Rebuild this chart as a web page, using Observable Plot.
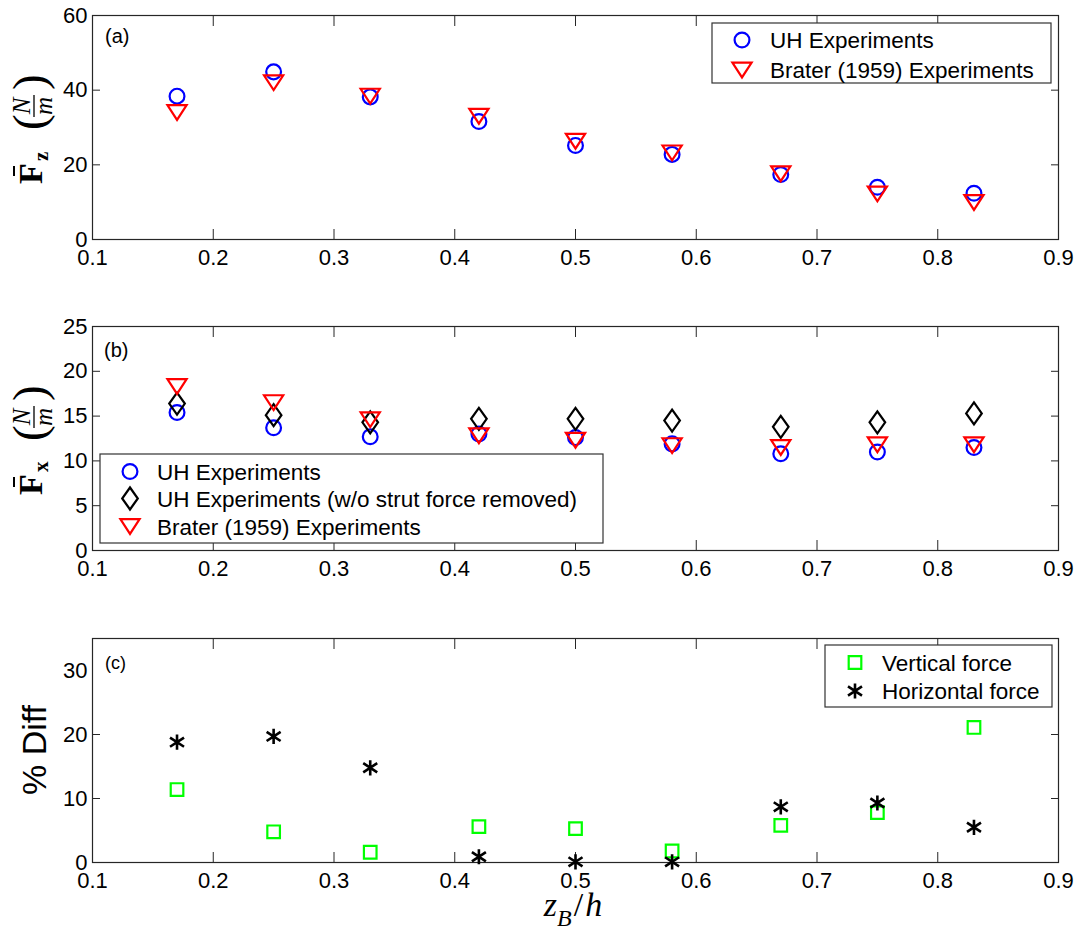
<!DOCTYPE html>
<html>
<head>
<meta charset="utf-8">
<script src="https://cdn.jsdelivr.net/npm/d3@7"></script>
<script src="https://cdn.jsdelivr.net/npm/@observablehq/plot@0.6"></script>
<style>
  body { margin: 0; background: #fff; }
  #fig { position: relative; width: 1079px; height: 933px; background: #fff; }
  #fig svg { position: absolute; left: 0; }
</style>
</head>
<body>
<div id="fig"></div>
<script>
// Relative submergence z_B/h of the plate
const zB = [0.17, 0.25, 0.33, 0.42, 0.50, 0.58, 0.67, 0.75, 0.83];

// (a) mean vertical force (N/m)
const fzUH     = [38.4, 44.9, 38.2, 31.6, 25.2, 22.8, 17.4, 14.0, 12.4];
const fzBrater = [34.0, 42.0, 38.4, 33.0, 26.3, 23.2, 17.6, 12.2, 9.9];

// (b) mean horizontal force (N/m)
const fxUH      = [15.4, 13.7, 12.7, 13.0, 12.6, 11.9, 10.8, 11.0, 11.5];
const fxUHStrut = [16.4, 15.1, 14.3, 14.7, 14.7, 14.5, 13.8, 14.3, 15.3];
const fxBrater  = [18.3, 16.5, 14.6, 12.8, 12.3, 11.7, 11.5, 11.8, 11.8];

// (c) percent difference between the two experiment sets
const diffVertical   = [11.4, 4.8, 1.6, 5.6, 5.3, 1.8, 5.8, 7.8, 21.1];
const diffHorizontal = [18.8, 19.7, 14.8, 0.9, 0.1, 0.1, 8.7, 9.3, 5.5];

// Axis ticks
const xTicks = [0.1, 0.2, 0.3, 0.4, 0.5, 0.6, 0.7, 0.8, 0.9];
const yTicksA = [0, 20, 40, 60];
const yTicksB = [0, 5, 10, 15, 20, 25];
const yTicksC = [0, 10, 20, 30];

const SANS = "'Liberation Sans', Arial, Helvetica, sans-serif";
const SERIF = "'Liberation Serif', 'DejaVu Serif', 'Times New Roman', serif";
const R = 8;

// Marker shapes, scaled from the symbol area so they follow r
const scaleOf = (size) => Math.sqrt(size / Math.PI) / R;
const circleSym = { draw(c, size) { const k = scaleOf(size), r = 7.4 * k; c.moveTo(r, 0); c.arc(0, 0, r, 0, 2 * Math.PI); } };
const triDown = { draw(c, size) { const k = scaleOf(size), w = 9.6 * k, h = 7.4 * k; c.moveTo(-w, -h); c.lineTo(w, -h); c.lineTo(0, h); c.closePath(); } };
const diamond = { draw(c, size) { const k = scaleOf(size), w = 7.8 * k, h = 11 * k; c.moveTo(0, -h); c.lineTo(w, 0); c.lineTo(0, h); c.lineTo(-w, 0); c.closePath(); } };
const square = { draw(c, size) { const k = scaleOf(size), s = 6.3 * k; c.rect(-s, -s, 2 * s, 2 * s); } };
const asterisk = { draw(c, size) {
  const k = scaleOf(size), v = 7.6 * k, dx = 7.0 * k, dy = 4.6 * k;
  c.moveTo(0, -v); c.lineTo(0, v);
  c.moveTo(-dx, -dy); c.lineTo(dx, dy);
  c.moveTo(-dx, dy); c.lineTo(dx, -dy);
} };

const W = 1079, H = 311;
const xInner = xTicks.slice(1, -1);

function panel({top, yDomain, yTicks, marks}) {
  return Plot.plot({
    width: W, height: H,
    marginLeft: 92, marginRight: 21, marginTop: top, marginBottom: H - top - 224,
    style: { fontFamily: SANS, fontSize: "22px", color: "#000", background: "transparent", overflow: "visible" },
    x: { domain: [0.1, 0.9] },
    y: { domain: yDomain },
    marks: [
      Plot.frame({ stroke: "#262626", strokeWidth: 1.2 }),
      Plot.axisX({ ticks: xInner, anchor: "bottom", tickSize: -10, text: null, label: null, stroke: "#262626" }),
      Plot.axisX({ ticks: xInner, anchor: "top", tickSize: -10, text: null, label: null, stroke: "#262626" }),
      Plot.axisX({ ticks: xTicks, anchor: "bottom", tickSize: 0, tickPadding: 10, tickFormat: d3.format(".1f"), label: null, fontSize: 22 }),
      Plot.axisY({ ticks: yTicks.slice(1, -1), anchor: "left", tickSize: -8, text: null, label: null, stroke: "#262626" }),
      Plot.axisY({ ticks: yTicks.slice(1, -1), anchor: "right", tickSize: -8, text: null, label: null, stroke: "#262626" }),
      Plot.axisY({ ticks: yTicks, anchor: "left", tickSize: 0, tickPadding: 5, label: null, fontSize: 22 }),
      ...marks
    ]
  });
}

function legend(svg, box, rows) {
  const g = d3.select(svg).append("g").attr("text-anchor", "start");
  g.append("rect")
    .attr("x", box.x).attr("y", box.y).attr("width", box.w).attr("height", box.h)
    .attr("fill", "#fff").attr("stroke", "#333").attr("stroke-width", 1.2);
  rows.forEach(r => {
    g.append("path")
      .attr("transform", `translate(${box.mx},${r.y})`)
      .attr("d", d3.symbol(r.symbol, Math.PI * R * R)())
      .attr("fill", "none").attr("stroke", r.color).attr("stroke-width", r.sw || 2.2);
    g.append("text")
      .attr("x", box.tx).attr("y", r.y).attr("dy", "0.36em")
      .attr("font-family", SANS).attr("font-size", 22.5).attr("fill", "#000")
      .text(r.label);
  });
}

function panelTag(svg, x, y, text, size) {
  d3.select(svg).append("text").attr("x", x).attr("y", y).attr("text-anchor", "start")
    .attr("font-family", SANS).attr("font-size", size).attr("fill", "#000").text(text);
}

// Rotated force label: bold F with bar, bold subscript, then (N/m) as a fraction
function forceLabel(svg, baseX, midY, sub) {
  const g = d3.select(svg).append("g")
    .attr("transform", `translate(${baseX},${midY + 63}) rotate(-90)`)
    .attr("text-anchor", "start")
    .attr("font-family", SERIF).attr("fill", "#000");
  g.append("text").attr("x", 6).attr("y", 0).attr("font-size", 34).attr("font-weight", "bold").text("F");
  g.append("line").attr("x1", 14).attr("x2", 24).attr("y1", -28).attr("y2", -28).attr("stroke", "#000").attr("stroke-width", 2);
  g.append("text").attr("x", 29).attr("y", 6).attr("font-size", 21).attr("font-weight", "bold").text(sub);
  g.append("text").attr("x", 60).attr("y", 3).attr("font-size", 47).text("(");
  g.append("text").attr("x", 84).attr("y", -12).attr("font-size", 25).attr("font-style", "italic").attr("text-anchor", "middle").text("N");
  g.append("line").attr("x1", 73).attr("x2", 95).attr("y1", -8).attr("y2", -8).attr("stroke", "#000").attr("stroke-width", 1.3);
  g.append("text").attr("x", 84).attr("y", 10).attr("font-size", 25).attr("font-style", "italic").attr("text-anchor", "middle").text("m");
  g.append("text").attr("x", 100).attr("y", 3).attr("font-size", 47).text(")");
}

const fig = document.getElementById("fig");

// ---- (a) vertical force ----
const rowsA = zB.map((z, i) => ({ z, uh: fzUH[i], brater: fzBrater[i] }));
const svgA = panel({
  top: 15, yDomain: [0, 60], yTicks: yTicksA,
  marks: [
    Plot.dot(rowsA, { x: "z", y: "uh", symbol: circleSym, r: R, stroke: "#0000ff", strokeWidth: 2.2, fill: "none" }),
    Plot.dot(rowsA, { x: "z", y: "brater", symbol: triDown, r: R, stroke: "#ff0000", strokeWidth: 2.2, fill: "none" })
  ]
});
svgA.style.top = "0px";
fig.appendChild(svgA);
legend(svgA, { x: 712, y: 23, w: 339, h: 60, mx: 742, tx: 770 }, [
  { y: 40, symbol: circleSym, color: "#0000ff", label: "UH Experiments" },
  { y: 70, symbol: triDown, color: "#ff0000", label: "Brater (1959) Experiments" }
]);
panelTag(svgA, 105, 43, "(a)", 20);
forceLabel(svgA, 42, 127, "z");

// ---- (b) horizontal force ----
const rowsB = zB.map((z, i) => ({ z, uh: fxUH[i], strut: fxUHStrut[i], brater: fxBrater[i] }));
const svgB = panel({
  top: 15, yDomain: [0, 25], yTicks: yTicksB,
  marks: [
    Plot.dot(rowsB, { x: "z", y: "uh", symbol: circleSym, r: R, stroke: "#0000ff", strokeWidth: 2.2, fill: "none" }),
    Plot.dot(rowsB, { x: "z", y: "strut", symbol: diamond, r: R, stroke: "#000", strokeWidth: 2.2, fill: "none" }),
    Plot.dot(rowsB, { x: "z", y: "brater", symbol: triDown, r: R, stroke: "#ff0000", strokeWidth: 2.2, fill: "none" })
  ]
});
svgB.style.top = "311px";
fig.appendChild(svgB);
legend(svgB, { x: 100, y: 143, w: 503, h: 89, mx: 130, tx: 157 }, [
  { y: 160.5, symbol: circleSym, color: "#0000ff", label: "UH Experiments" },
  { y: 187.5, symbol: diamond, color: "#000", label: "UH Experiments (w/o strut force removed)" },
  { y: 215.5, symbol: triDown, color: "#ff0000", label: "Brater (1959) Experiments" }
]);
panelTag(svgB, 104, 46, "(b)", 20);
forceLabel(svgB, 42, 127, "x");

// ---- (c) percent difference ----
const rowsC = zB.map((z, i) => ({ z, vert: diffVertical[i], horiz: diffHorizontal[i] }));
const svgC = panel({
  top: 16, yDomain: [0, 35], yTicks: yTicksC,
  marks: [
    Plot.dot(rowsC, { x: "z", y: "vert", symbol: square, r: R, stroke: "#00ff00", strokeWidth: 2.2, fill: "none" }),
    Plot.dot(rowsC, { x: "z", y: "horiz", symbol: asterisk, r: R, stroke: "#000", strokeWidth: 2.6, fill: "none" })
  ]
});
svgC.style.top = "622px";
fig.appendChild(svgC);
legend(svgC, { x: 825, y: 23, w: 227, h: 62, mx: 855, tx: 882 }, [
  { y: 40.5, symbol: square, color: "#00ff00", label: "Vertical force" },
  { y: 69, symbol: asterisk, color: "#000", label: "Horizontal force", sw: 2.6 }
]);
panelTag(svgC, 105, 47, "(c)", 18);
d3.select(svgC).append("text")
  .attr("transform", "translate(46,128) rotate(-90)")
  .attr("text-anchor", "middle").attr("font-family", SANS).attr("font-size", 34).attr("fill", "#000")
  .text("% Diff");
// x-axis label z_B / h
const xl = d3.select(svgC).append("text")
  .attr("x", 573).attr("y", 294).attr("text-anchor", "middle")
  .attr("font-family", SERIF).attr("font-size", 34).attr("fill", "#000");
xl.append("tspan").attr("font-style", "italic").text("z");
xl.append("tspan").attr("font-style", "italic").attr("font-size", 24).attr("dy", 10).text("B");
xl.append("tspan").attr("dy", -10).attr("dx", 2).text("/");
xl.append("tspan").attr("font-style", "italic").attr("dx", 2).text("h");
</script>
</body>
</html>
